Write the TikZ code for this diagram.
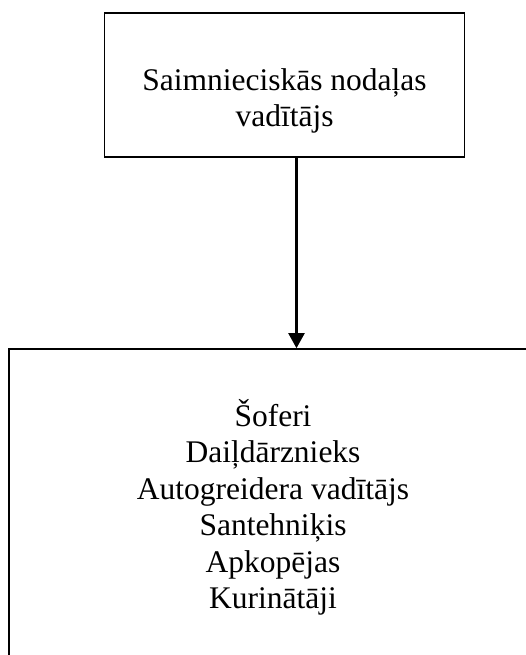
\documentclass[tikz,border=0pt]{standalone}
\usepackage{fontspec}
\setmainfont{Liberation Serif}
\usetikzlibrary{positioning,arrows.meta}
\tikzstyle{b} = [draw, line width=1.6pt, rectangle, inner sep=0pt]

\begin{document}
\begin{tikzpicture}[x=1pt,y=-1pt,
		txt/.style={align=center, font=\fontsize{31.5}{36.5}\selectfont, inner sep=0pt},
		arr/.style={-{Triangle[width=16pt,length=15pt]}, line width=2.2pt}]
		\fill[white] (0,0) rectangle (526,655);
		\useasboundingbox (0,0) rectangle (526,655);
		\clip (0,0) rectangle (526,655);
		\node (boss) [b, minimum width=360pt, minimum height=144pt] at (284.5,85) {};
		\node (bosslbl) [txt, below=56pt of boss.north] {Saimnieciskās nodaļas\\vadītājs};
		\node (staff) [b, txt, minimum width=528pt, minimum height=317pt] at (273,507.5)
			{Šoferi\\Daiļdārznieks\\Autogreidera vadītājs\\Santehniķis\\Apkopējas\\Kurinātāji};
		\draw [arr] ([xshift=12pt]boss.south) -- ([xshift=12pt]boss.south |- staff.north);
	\end{tikzpicture}
\end{document}
